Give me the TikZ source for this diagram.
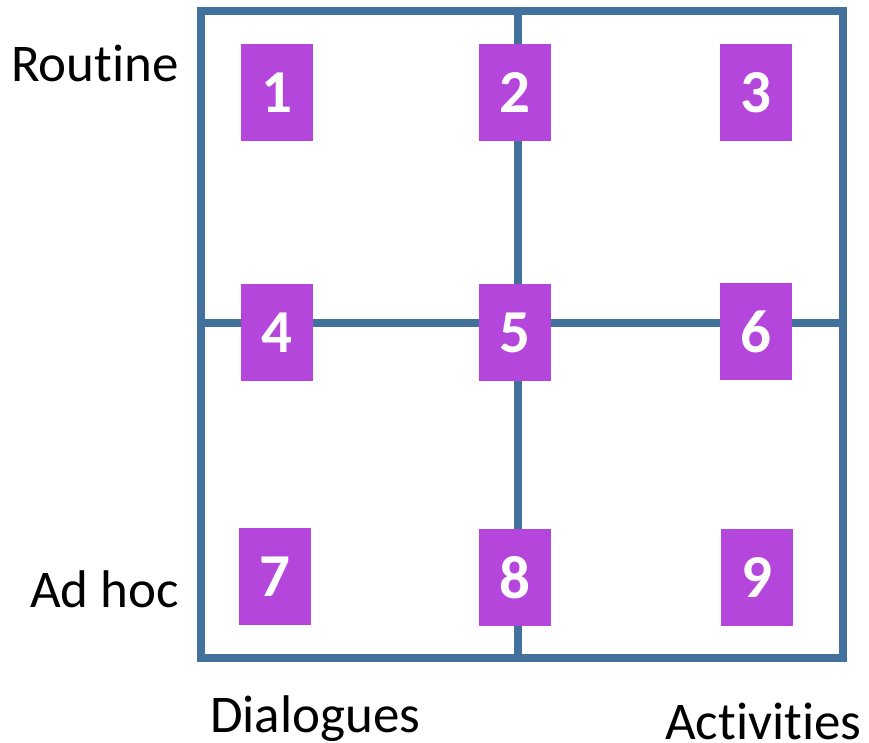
\documentclass[tikz,border=0pt]{standalone}
\usepackage{fontspec}
\setmainfont{Carlito}[RawFeature={-liga;-clig;-calt;-dlig}]
\definecolor{gridblue}{HTML}{41719C}
\definecolor{boxpurple}{HTML}{B446DC}
\tikzset{
  gridline/.style={draw=gridblue, line width=8pt},
  numbox/.style={fill=boxpurple, text=white, minimum width=72pt, minimum height=97pt, inner sep=0pt, font=\fontsize{61}{61}\selectfont\bfseries},
  axislabel/.style={anchor=base west, inner sep=0pt, font=\fontsize{53}{53}\selectfont}
}
\begin{document}
\begin{tikzpicture}[x=1pt,y=-1pt]
\useasboundingbox (0,0) rectangle (869,742);
% grid
\draw[gridline] (201,10.5) rectangle (843,657.5);
\coordinate (vt) at (517.5,10.5);
\coordinate (vb) at (517.5,657.5);
\coordinate (hl) at (201,323);
\coordinate (hr) at (843,323);
\draw[gridline] (vt) -- (vb);
\draw[gridline] (hl) -- (hr);
% boxes
\node[numbox] (n1) at (277,92.5) {1};
\node[numbox] (n2) at (515,92.5) {2};
\node[numbox] (n3) at (756,92.5) {3};
\node[numbox] (n4) at (277,332.5) {4};
\node[numbox] (n5) at (515,332.5) {5};
\node[numbox] (n6) at (756,331.5) {6};
\node[numbox] (n7) at (275,576.5) {7};
\node[numbox] (n8) at (515,577.5) {8};
\node[numbox] (n9) at (757,577.5) {9};
% labels
\node[axislabel] (routine) at (11,81) {Rout\kern0ptine};
\node[axislabel] (adhoc) at (30,607) {Ad hoc};
\node[axislabel] (dialogues) at (210,732) {Dialogues};
\node[axislabel] (activities) at (665,739) {Act\kern0ptivit\kern0pties};
\end{tikzpicture}
\end{document}
